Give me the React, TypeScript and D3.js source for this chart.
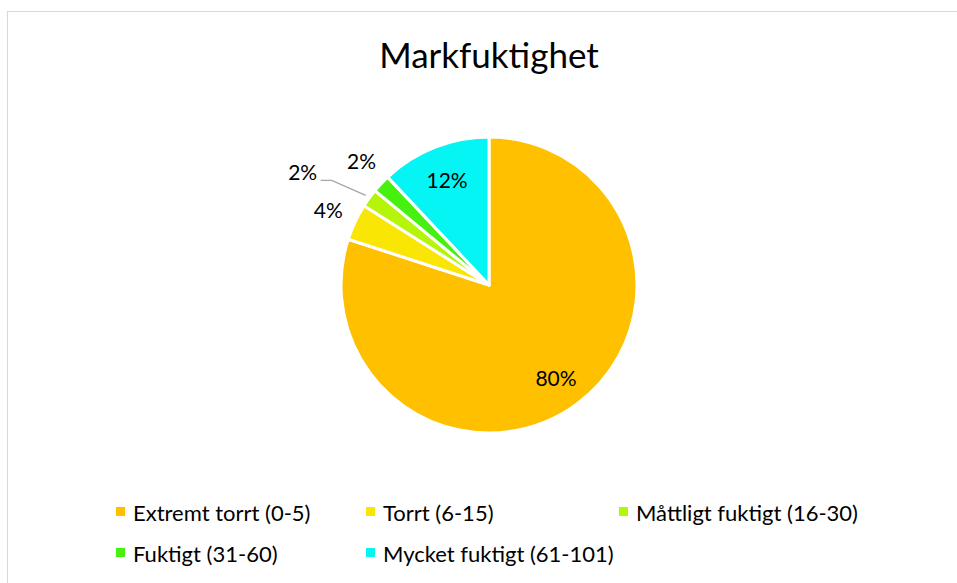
import React from "react";
import * as d3 from "d3";

const categories = [
  "Extremt torrt (0-5)",
  "Torrt (6-15)",
  "Måttligt fuktigt (16-30)",
  "Fuktigt (31-60)",
  "Mycket fuktigt (61-101)",
];
const values = [80, 4, 2, 2, 12];
const colors = ["#FFC000", "#FAE605", "#B4F50A", "#46F00F", "#05F5F5"];
const title = "Markfuktighet";

const W = 957;
const H = 583;
const cx = 489;
const cy = 285;
const R = 148;
const FONT = "Lato, 'Open Sans', sans-serif";

export default function App() {
  const pie = d3.pie<number>().sort(null).value((d) => d)(values);
  const arc = d3.arc<d3.PieArcDatum<number>>().innerRadius(0).outerRadius(R);
  const total = d3.sum(values);

  const labelPos = (a: d3.PieArcDatum<number>, rf: number) => {
    const m = (a.startAngle + a.endAngle) / 2;
    return [Math.sin(m) * R * rf, -Math.cos(m) * R * rf];
  };

  const colX = [117, 367, 620];
  const rowY = [512, 553];

  return (
    <div style={{ position: "absolute", left: 0, top: 0 }}>
      <svg width={W} height={H} style={{ display: "block", background: "#fff" }}>
        <rect x={7.5} y={11.5} width={W + 20} height={H + 20} fill="#fff" stroke="#D9D9D9" strokeWidth={1} />
        <text x={cx} y={68} textAnchor="middle" fontFamily={FONT} fontSize={35} fill="#000">
          {title}
        </text>
        <g transform={`translate(${cx},${cy})`}>
          {pie.map((p, i) => (
            <path key={i} d={arc(p) || ""} fill={colors[i]} stroke="#fff" strokeWidth={3} strokeLinejoin="round" />
          ))}
          {pie.map((p, i) => {
            const pct = Math.round((values[i] / total) * 100) + "%";
            const inside = values[i] / total > 0.08;
            let [x, y] = labelPos(p, inside ? 0.77 : 1.2);
            let leader: string | null = null;
            if (i === 3) {
              y -= 3;
              x += 2;
            }
            if (i === 2) {
              const [ex, ey] = labelPos(p, 1.03);
              const kx = ex - 34;
              const ky = ey - 15;
              const lx = kx - 11;
              leader = `M${ex},${ey}L${kx},${ky}L${lx},${ky}`;
              x = lx - 18;
              y = ky - 9;
            }
            return (
              <g key={i}>
                {leader && <path d={leader} fill="none" stroke="#A6A6A6" strokeWidth={1.3} />}
                <text
                  x={x}
                  y={y}
                  textAnchor="middle"
                  dominantBaseline="central"
                  fontFamily={FONT}
                  fontSize={21}
                  fill="#000"
                >
                  {pct}
                </text>
              </g>
            );
          })}
        </g>
        {categories.map((c, i) => {
          const col = i % 3;
          const row = Math.floor(i / 3);
          return (
            <g key={c} transform={`translate(${colX[col]},${rowY[row]})`}>
              <rect x={-1} y={-5} width={9} height={9} fill={colors[i]} />
              <text x={16} y={0} dominantBaseline="central" fontFamily={FONT} fontSize={22} fill="#000">
                {c}
              </text>
            </g>
          );
        })}
      </svg>
    </div>
  );
}
